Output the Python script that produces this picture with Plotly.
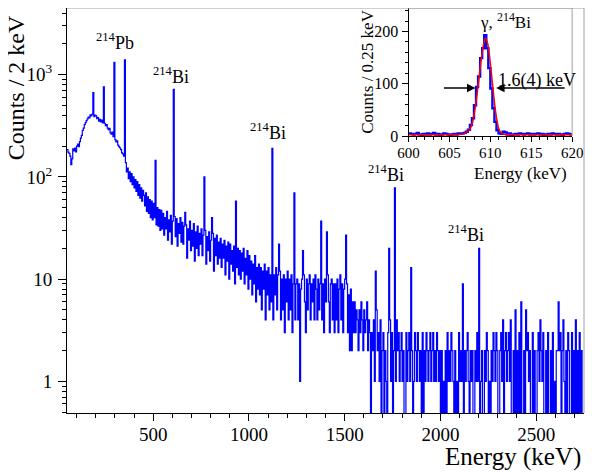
import numpy as np
import plotly.graph_objects as go

# main spectrum: counts per 2 keV, sampled in 5 keV steps starting at 50 keV
e_start = 50
e_step = 5
counts = [
    185, 175, 170, 160, 132, 150, 188, 180, 192, 176, 200, 210, 198, 222, 240, 255, 285, 300, 325, 340,
    355, 370, 385, 378, 405, 395, 410, 392, 388, 402, 395, 372, 380, 352, 365, 345, 360, 338, 328, 335,
    318, 325, 300, 290, 298, 270, 262, 275, 248, 240, 232, 220, 226, 205, 198, 192, 185, 172, 168, 160,
    150, 138, 112, 122, 96, 112, 90, 108, 84, 100, 78, 94, 72, 90, 66, 84, 62, 78, 58, 74,
    66, 52, 70, 46, 64, 44, 60, 40, 58, 38, 55, 40, 53, 34, 50, 33, 48, 30, 47, 31,
    44, 27, 40, 31, 46, 24, 38, 29, 42, 22, 37, 19, 41, 26, 39, 21, 35, 28, 40, 23,
    36, 22, 33, 18, 34, 16, 31, 24, 37, 19, 30, 21, 35, 15, 29, 20, 33, 17, 28, 22,
    31, 17, 27, 20, 30, 14, 26, 19, 29, 15, 24, 18, 28, 12, 25, 17, 27, 14, 23, 16,
    25, 13, 22, 16, 24, 11, 21, 15, 23, 10, 22, 14, 19, 12, 21, 9, 19, 13, 20, 11,
    19, 10, 18, 12, 20, 9, 16, 11, 19, 8, 17, 10, 15, 7, 14, 9, 17, 6, 13, 8,
    14, 7, 13, 5, 12, 8, 14, 4, 12, 7, 13, 5, 11, 6, 12, 4, 11, 7, 13, 5,
    11, 6, 12, 4, 10, 5, 11, 3, 10, 6, 12, 4, 10, 5, 11, 3, 9, 10, 4, 9,
    10, 4, 9, 1, 8, 10, 5, 11, 6, 3, 10, 5, 9, 11, 4, 9, 6, 10, 4, 11,
    8, 4, 10, 5, 9, 11, 4, 9, 3, 10, 6, 4, 11, 6, 3, 9, 10, 4, 9, 3,
    9, 4, 10, 3, 8, 11, 4, 9, 3, 8, 10, 5, 9, 3, 7, 2, 8, 2, 6, 3,
    6, 3, 5, 4, 2, 5, 3, 6, 4, 2, 5, 3, 4, 6, 2, 4, 3, 0, 3, 2,
    4, 1, 3, 5, 2, 3, 1, 4, 0, 2, 3, 0, 2, 1, 0, 3, 2, 4, 1, 3,
    0, 2, 3, 1, 4, 2, 3, 1, 2, 3, 1, 2, 0, 0, 3, 1, 2, 3, 1, 2,
    2, 0, 1, 3, 2, 1, 3, 2, 1, 2, 0, 3, 0, 2, 1, 3, 2, 1, 2, 3,
    1, 2, 3, 1, 2, 1, 3, 2, 1, 2, 0, 2, 0, 1, 0, 2, 0, 3, 1, 2,
    1, 3, 2, 1, 0, 2, 0, 1, 0, 3, 1, 2, 1, 3, 0, 2, 1, 2, 3, 1,
    0, 2, 1, 2, 0, 0, 2, 1, 3, 1, 2, 0, 1, 2, 0, 0, 2, 1, 3, 2,
    0, 1, 0, 2, 1, 3, 2, 1, 3, 2, 0, 0, 2, 3, 1, 4, 0, 2, 3, 1,
    2, 3, 1, 4, 0, 0, 2, 0, 5, 0, 2, 0, 3, 0, 6, 0, 0, 2, 0, 3,
    2, 3, 1, 2, 0, 0, 3, 0, 2, 0, 0, 2, 3, 1, 4, 2, 1, 3, 0, 0,
    2, 0, 3, 0, 0, 2, 0, 3, 0, 1, 0, 2, 2, 0, 2, 3, 0, 2, 4, 1,
    0, 2, 0, 3, 2, 0, 0, 3, 0, 2, 0, 4, 0, 2, 0, 3, 0, 2, 0, 0,
]

# gamma lines (keV) and their peak heights (counts / 2 keV)
peak_energy = [186, 242, 295, 352, 511, 609, 665, 768, 806, 934, 1120, 1155,
               1238, 1281, 1377, 1408, 1509, 1661, 1730, 1764, 1847, 2118,
               2204, 2448, 2615]
peak_height = [670, 760, 1320, 1400, 145, 720, 45, 100, 40, 58, 190, 22,
               70, 19, 37, 29, 27, 12, 20, 78, 13, 9,
               20, 5, 6]

# inset: 609 keV line, 0.25 keV bins from 600 to 620 keV
inset_start = 600
inset_step = 0.25
inset_counts = [
    5, 4, 3, 4, 6, 3, 2, 4, 3, 5, 3, 4, 6, 3, 4, 2, 3, 5, 4, 3,
    2, 3, 4, 3, 5, 4, 5, 6, 8, 12, 21, 34, 59, 94, 114, 149, 168, 193, 168, 130,
    91, 53, 27, 11, 5, 4, 8, 7, 3, 5, 2, 3, 4, 3, 5, 4, 3, 4, 5, 3,
    4, 3, 4, 5, 3, 4, 2, 3, 4, 3, 5, 4, 3, 4, 3, 2, 4, 5, 4, 3,
]
fit_energy = [600, 604, 606, 606.75, 607.25, 607.625, 607.875, 608.125, 608.375,
              608.625, 608.875, 609.125, 609.375, 609.625, 609.875, 610.125,
              610.375, 610.625, 610.875, 611.125, 611.5, 612, 614, 620]
fit_counts = [2.5, 2.5, 2.8, 4, 9, 17, 30, 52, 80, 113, 146, 172, 187, 180, 156,
              120, 82, 48, 24, 10, 4, 2.8, 2.5, 2.5]

main_xticks = [500, 1000, 1500, 2000, 2500]
main_yticks = [1, 10, 100, 1000]
main_yticktext = ['1', '10', '10<sup>2</sup>', '10<sup>3</sup>']
inset_xticks = [600, 605, 610, 615, 620]
inset_yticks = [0, 100, 200]

FONT = 'Liberation Serif'
# the page body adds an 8 px margin, so the figure fills what is left
W, H = 577, 467
L, R, T, B = 59, 576, 0, 405


def px(x, y):
    # reference pixel -> paper coordinates of the main plot
    return (x - 67.3) / 523.7, (413 - y) / 405


# build histogram steps
y = np.array(counts, dtype=float)
for e, h in zip(peak_energy, peak_height):
    i = int((e - e_start) // e_step)
    y[i] = max(y[i], h)
y = np.where(y > 0, y, 0.3)  # empty bins fall below the axis
edges = e_start + e_step * np.arange(len(counts) + 1)

iy = np.array(inset_counts, dtype=float)
iedges = inset_start + inset_step * np.arange(len(inset_counts) + 1)

fig = go.Figure()
fig.add_trace(go.Scatter(
    x=edges, y=np.append(y, y[-1]), mode='lines',
    line=dict(color='#0000ff', width=1.2, shape='hv'),
    xaxis='x', yaxis='y', showlegend=False, hoverinfo='skip'
))
fig.add_trace(go.Scatter(
    x=iedges, y=np.append(iy, iy[-1]), mode='lines',
    line=dict(color='#0000ff', width=2.4, shape='hv'),
    xaxis='x2', yaxis='y2', showlegend=False, hoverinfo='skip'
))
fig.add_trace(go.Scatter(
    x=fit_energy, y=fit_counts, mode='lines',
    line=dict(color='#ff0000', width=1.5, shape='spline', smoothing=0.8),
    xaxis='x2', yaxis='y2', showlegend=False, hoverinfo='skip'
))

tickfont = dict(family=FONT, size=19, color='black')
ifont = dict(family=FONT, size=16, color='black')

main_xminor = [v for v in range(100, 2750, 100) if v not in main_xticks]
main_yminor = [m * 10 ** d for d in range(-1, 4) for m in range(2, 10)
               if 0.45 < m * 10 ** d < 5100] + [0.5]

ix0, iy0 = px(413.3, 136)
ix1, iy1 = px(579, 8)

fig.update_layout(
    width=W, height=H,
    margin=dict(l=L, r=W - R, t=T, b=H - B),
    paper_bgcolor='white', plot_bgcolor='white',
    font=dict(family=FONT, color='black'),
    xaxis=dict(
        domain=[0, 1], range=[50, 2750], tickmode='array', tickvals=main_xticks,
        ticks='outside', ticklen=7, tickcolor='black', tickfont=tickfont,
        ticklabelstandoff=-3, automargin=False,
        minor=dict(tickmode='array', tickvals=main_xminor, ticks='outside',
                   ticklen=3.5, tickcolor='black', showgrid=False),
        showline=True, linecolor='black', linewidth=1,
        showgrid=False, zeroline=False
    ),
    yaxis=dict(
        type='log', domain=[0, 1], range=[-0.31, 3.653], tickmode='array',
        tickvals=main_yticks, ticktext=main_yticktext,
        ticks='outside', ticklen=8, tickcolor='black', tickfont=tickfont,
        ticklabelstandoff=2, automargin=False,
        minor=dict(tickmode='array', tickvals=main_yminor, ticks='outside',
                   ticklen=4, tickcolor='black', showgrid=False),
        showline=True, linecolor='black', linewidth=1,
        showgrid=False, zeroline=False
    ),
    xaxis2=dict(
        domain=[ix0, ix1], anchor='y2',
        range=[600, 620], tickmode='array', tickvals=inset_xticks,
        ticks='outside', ticklen=5, tickcolor='black',
        tickfont=dict(family=FONT, size=15, color='black'),
        ticklabelstandoff=-2, ticklabeloverflow='allow', automargin=False,
        minor=dict(tickmode='array', tickvals=[v for v in range(601, 620) if v % 5],
                   ticks='outside', ticklen=3, tickcolor='black', showgrid=False),
        showline=True, linecolor='black', linewidth=1,
        showgrid=False, zeroline=False
    ),
    yaxis2=dict(
        domain=[iy0, iy1], anchor='x2',
        range=[0, 245], tickmode='array', tickvals=inset_yticks,
        ticks='outside', ticklen=6, tickcolor='black', tickfont=ifont,
        automargin=False,
        minor=dict(tickmode='array', tickvals=[v for v in range(20, 245, 20) if v % 100],
                   ticks='outside', ticklen=3, tickcolor='black', showgrid=False),
        showline=True, linecolor='black', linewidth=1,
        showgrid=False, zeroline=False
    ),
)

# gray top/right frame lines of both pads
for x0, y0, x1, y1 in [(0, 1, 1, 1), (1, 0, 1, 1),
                       (ix0, iy1, ix1, iy1), (ix1, iy0, ix1, iy1)]:
    fig.add_shape(type='line', xref='paper', yref='paper', x0=x0, y0=y0,
                  x1=x1, y1=y1, line=dict(color='#a0a0a0', width=1))


def label(text, xp, yp, size, **kw):
    ax_, ay_ = px(xp, yp)
    opts = dict(xanchor='center', yanchor='middle')
    opts.update(kw)
    fig.add_annotation(xref='paper', yref='paper', x=ax_, y=ay_, text=text,
                       showarrow=False, font=dict(family=FONT, size=size, color='black'),
                       **opts)


# peak labels
for text, xp, yp in [('<sup>214</sup>Pb', 116, 42),
                     ('<sup>214</sup>Bi', 173, 76),
                     ('<sup>214</sup>Bi', 271, 132),
                     ('<sup>214</sup>Bi', 390, 173),
                     ('<sup>214</sup>Bi', 471, 233)]:
    label(text, xp, yp, 18)

# inset texts and FWHM arrows
label('γ, <sup>214</sup>Bi', 511, 21, 17)
label('1.6(4) keV', 543, 80, 18)
for hx, tail in [(481, -33), (502, 70)]:
    ax_, ay_ = px(hx, 88)
    fig.add_annotation(xref='paper', yref='paper', x=ax_, y=ay_, ax=tail, ay=0,
                       text='', showarrow=True, arrowhead=2, arrowsize=1.2,
                       arrowwidth=1.4, arrowcolor='black', standoff=0)

# axis titles
label('Energy (keV)', 590, 457, 25, xanchor='right')
label('Counts / 2 keV', 16, 88, 24, textangle=-90)
label('Energy (keV)', 576, 173, 17, xanchor='right')
label('Counts / 0.25 keV', 372, 72, 17, textangle=-90)

fig.write_html('out.html')
